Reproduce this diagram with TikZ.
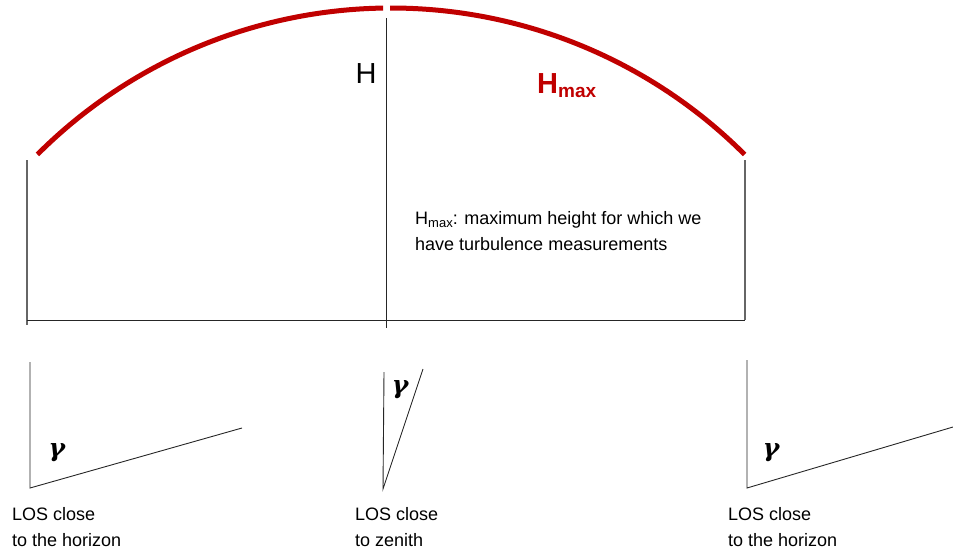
\documentclass[tikz,border=0pt]{standalone}
\usepackage{fontspec}
\setmainfont{Liberation Sans}
\newfontfamily\greekfont{DejaVu Serif}
\usetikzlibrary{calc}
\definecolor{arcred}{RGB}{192,0,0}
\tikzset{
  redarc/.style={draw=arcred, line width=5pt},
  thinline/.style={draw=black!85, line width=0.9pt},
  grayline/.style={draw=black!60, line width=1.1pt},
  labeltext/.style={font=\fontsize{18}{26}\selectfont, align=left, inner sep=0pt},
  gammanode/.style={font=\fontsize{25}{25}\selectfont\greekfont\bfseries\itshape, inner sep=0pt},
}
\begin{document}
\begin{tikzpicture}[x=1pt, y=-1pt]
\useasboundingbox (0,0) rectangle (953,557);
% arcs
\coordinate (ctr) at (391,508);
\draw[redarc] ($(ctr)+(135:500pt)$) arc[start angle=135, end angle=90.9, radius=500pt];
\draw[redarc] ($(ctr)+(90.1:500pt)$) arc[start angle=90.1, end angle=45, radius=500pt];
% frame
\coordinate (lt) at (27,160);
\coordinate (lb) at (27,325);
\coordinate (hl) at (27,320);
\coordinate (hr) at (745,320);
\coordinate (mt) at (386,18);
\coordinate (mb) at (386,328);
\coordinate (rt) at (745,160);
\coordinate (rb) at (745,320);
\draw[grayline] (lt) -- (lb);
\draw[thinline] (hl) -- (hr);
\draw[thinline] (mt) -- (mb);
\draw[grayline] (rt) -- (rb);
% labels
\node[font=\fontsize{29}{29}\selectfont, anchor=base, inner sep=0pt] (H) at (366,83) {H};
\node[text=arcred, anchor=base west, inner sep=0pt] (Hmax) at (537,93)
  {\fontsize{29}{29}\selectfont\bfseries H\raisebox{-4pt}{\fontsize{19}{19}\selectfont max}};
\node[labeltext, anchor=north west] (desc) at (415,211)
  {H\raisebox{-3pt}{\fontsize{13}{13}\selectfont max}: maximum height for which we\\have turbulence measurements};
% bottom left
\coordinate (a1) at (30,362);
\coordinate (a2) at (30,488);
\coordinate (a3) at (242,428);
\draw[thinline] (a1) -- (a2) -- (a3);
\node[gammanode] (g1) at (57,453) {γ};
\node[labeltext, anchor=north west] (t1) at (12,507) {LOS close\\to the horizon};
% bottom middle
\coordinate (b1) at (384,372);
\coordinate (b2) at (383,489);
\coordinate (b3) at (423,369);
\draw[thinline] (b1) -- (b2) -- (b3);
\node[gammanode] (g2) at (400,390) {γ};
\node[labeltext, anchor=north west] (t2) at (355,507) {LOS close\\to zenith};
% bottom right
\coordinate (c1) at (747,360);
\coordinate (c2) at (747,488);
\coordinate (c3) at (953,427);
\draw[thinline] (c1) -- (c2) -- (c3);
\node[gammanode] (g3) at (771,453) {γ};
\node[labeltext, anchor=north west] (t3) at (728,507) {LOS close\\to the horizon};
\end{tikzpicture}
\end{document}
